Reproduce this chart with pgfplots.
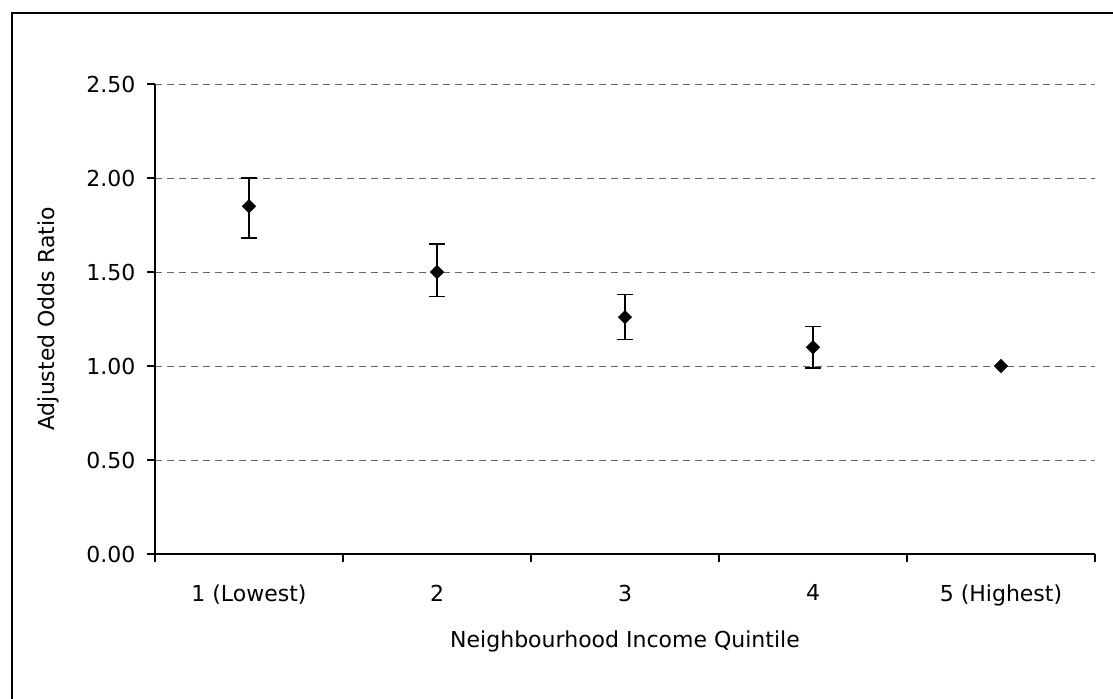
\documentclass[border=0pt]{standalone}
\usepackage{pgfplots}
\pgfplotsset{compat=1.18}
\usepackage{fontspec}
\setmainfont{DejaVu Sans}
\begin{document}
\fontsize{11pt}{13pt}\selectfont
\begin{tikzpicture}
\useasboundingbox (0,0) rectangle (556.5pt,349pt);
\draw[line width=1pt] (6pt,-5pt) -- (6pt,342.5pt) -- (570pt,342.5pt);
\begin{axis}[
  at={(77.5pt,72pt)}, anchor=south west,
  scale only axis, width=470pt, height=235pt,
  xmin=-0.5, xmax=4.5, ymin=0, ymax=2.5,
  axis x line*=bottom, axis y line*=left,
  axis line style={line width=0.7pt, -},
  tick align=outside, major tick length=4pt,
  tick style={line width=0.7pt, black},
  xtick={-0.5,0.5,1.5,2.5,3.5,4.5},
  x tick label as interval,
  xticklabels={1 (Lowest),2,3,4,5 (Highest)},
  ytick={0,0.5,1,1.5,2,2.5},
  /pgf/number format/fixed, /pgf/number format/fixed zerofill, /pgf/number format/precision=2,
  /pgf/number format/assume math mode=true,
  ymajorgrids, grid style={black!60, line width=0.5pt, dash pattern=on 3.5pt off 2.5pt},
  xticklabel style={yshift=-7.5pt},
  yticklabel style={xshift=-2pt},
  xlabel={Neighbourhood Income Quintile},
  ylabel={Adjusted Odds Ratio},
  xlabel style={yshift=-5pt},
  ylabel style={yshift=6pt},
  clip=false,
]
\addplot[only marks, mark=square*, mark size=2.3pt, mark options={rotate=45, fill=black, draw=black},
  error bars/.cd, y dir=both, y explicit,
  error bar style={line width=0.8pt, black},
  error mark options={line width=0.8pt, mark size=3.9pt, rotate=90}]
  coordinates {
    (0,1.85) += (0,0.15) -= (0,0.17)
    (1,1.50) += (0,0.15) -= (0,0.13)
    (2,1.26) += (0,0.12) -= (0,0.12)
    (3,1.10) += (0,0.11) -= (0,0.11)
  };
\addplot[only marks, mark=square*, mark size=2.3pt, mark options={rotate=45, fill=black, draw=black}]
  coordinates {(4,1.00)};
\end{axis}
\end{tikzpicture}
\end{document}
